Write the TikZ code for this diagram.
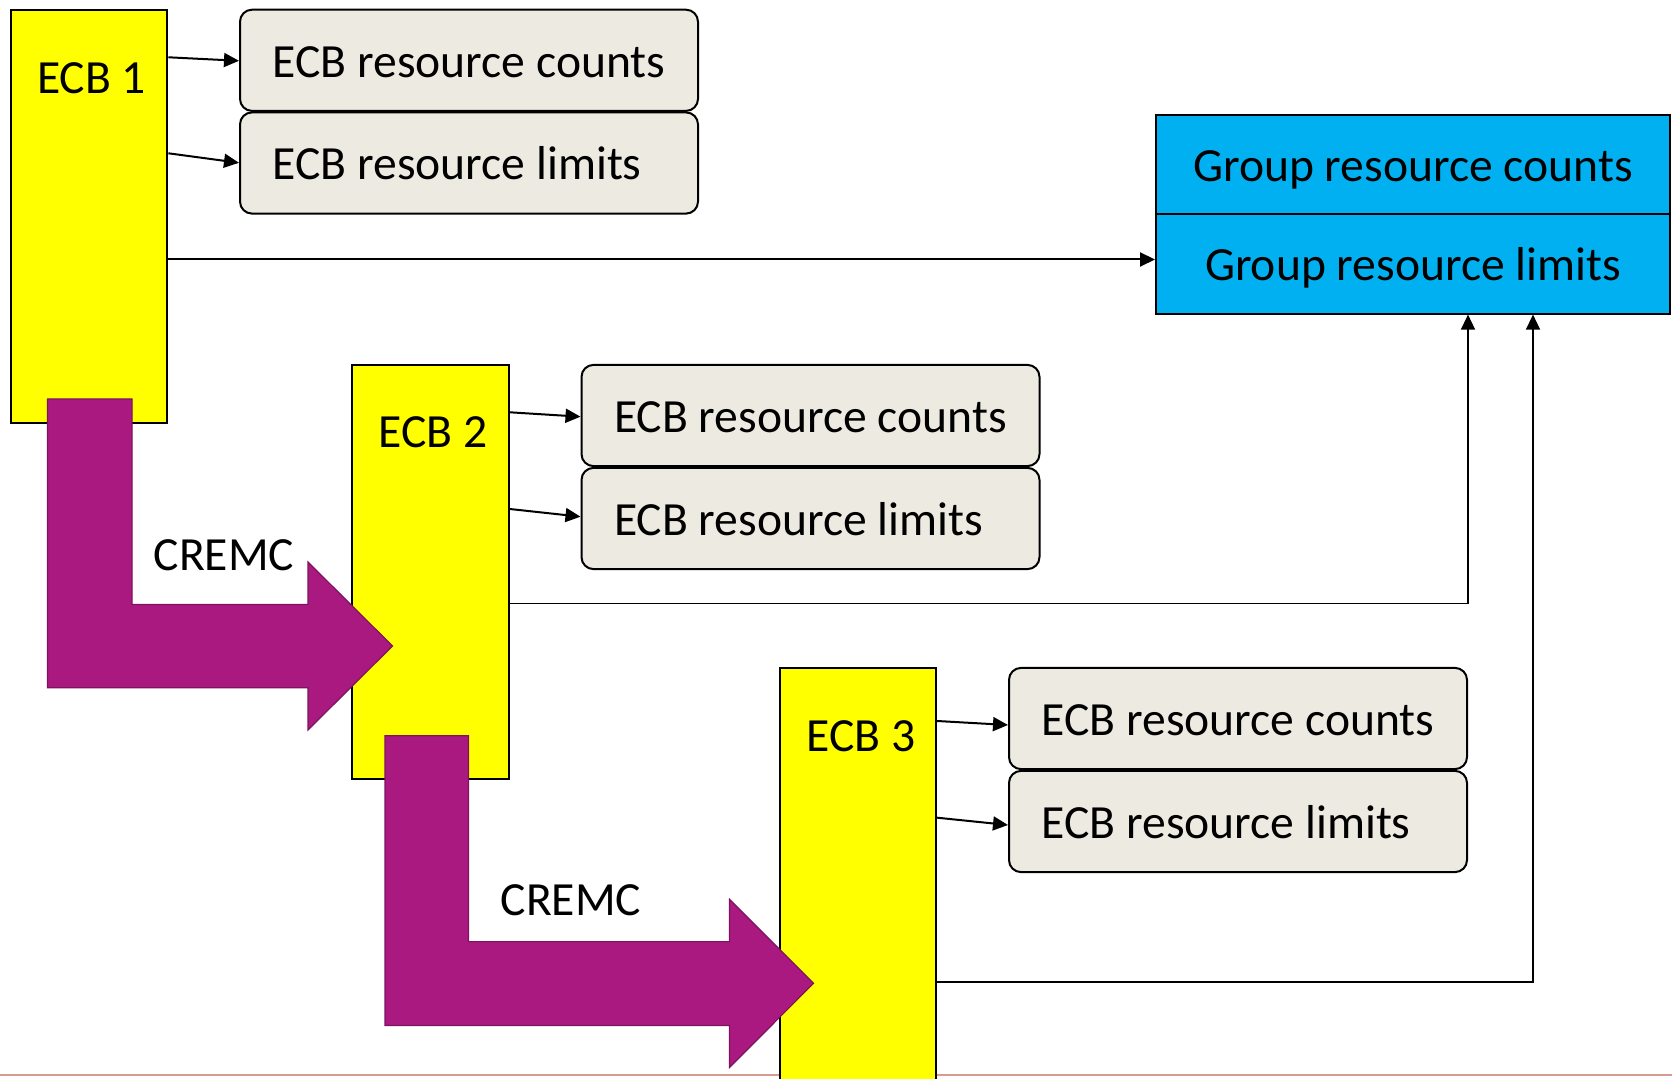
\documentclass[tikz,border=0pt]{standalone}
\usepackage{fontspec}
\setmainfont{Carlito}
\usetikzlibrary{arrows.meta}

\definecolor{ecbyellow}{RGB}{255,255,0}
\definecolor{fieldgray}{RGB}{237,235,225}
\definecolor{groupblue}{RGB}{0,176,240}
\definecolor{cremcfill}{RGB}{170,25,128}
\definecolor{cremcedge}{RGB}{125,18,95}
\definecolor{edgepink}{RGB}{215,155,145}

\tikzset{
  txt/.style={font=\fontsize{23.8pt}{28pt}\selectfont, text height=17pt, text depth=0pt},
  ecbbox/.style={draw=black, line width=1pt, fill=ecbyellow, minimum width=78.3pt, inner sep=0pt},
  field/.style={txt, draw=black, line width=1pt, fill=fieldgray, rounded corners=6pt,
    minimum width=229pt, minimum height=50.6pt, inner sep=0pt},
  groupcell/.style={txt, draw=black, line width=1pt, fill=groupblue,
    minimum width=257pt, minimum height=49.7pt, inner sep=0pt},
  conn/.style={line width=1pt, -{Triangle[length=7.5pt,width=7pt]}},
  feed/.style={line width=0.7pt, -{Triangle[length=7.5pt,width=7pt]}},
  cremc/.style={fill=cremcfill, draw=cremcedge, line width=0.6pt},
}

\begin{document}
\begin{tikzpicture}[x=0.5pt, y=-0.5pt]
\clip (0,0) rectangle (1672,1079);
\fill[white] (0,0) rectangle (1672,1079);

% slide edge
\draw[edgepink, line width=1pt] (0,1074.5) -- (1672,1074.5);

% ECB blocks
\node[ecbbox, minimum height=206.9pt] (ecb1) at (89.05,216.45) {};
\node[ecbbox, minimum height=207.2pt] (ecb2) at (430.5,572.1) {};
\node[ecbbox, minimum height=211pt]   (ecb3) at (857.8,879.3) {};

\node[txt] (t1) at (91.5,76.3) {ECB 1};
\node[txt] (t2) at (433,431) {ECB 2};
\node[txt] (t3) at (861,735) {ECB 3};

% per-ECB resource fields
\node[field] (c1) at (469,60.3)   {ECB resource counts};
\node[field] (l1) at (469,163)    {\rlap{ECB resource limits}\phantom{ECB resource counts}};
\node[field] (c2) at (810.5,415.5) {ECB resource counts};
\node[field] (l2) at (810.5,518.5) {\rlap{ECB resource limits}\phantom{ECB resource counts}};
\node[field] (c3) at (1238,718.5)  {ECB resource counts};
\node[field] (l3) at (1238,821.5)  {\rlap{ECB resource limits}\phantom{ECB resource counts}};

% group resource block
\node[groupcell] (gcnt) at (1413,164.5)  {Group resource counts};
\node[groupcell] (glim) at (1413,263.9)  {Group resource limits};

% ECB to field arrows
\draw[conn] (ecb1.east |- 0,57.3)  -- (c1.west |- 0,60.8);
\draw[conn] (ecb1.east |- 0,153.3) -- (l1.west |- 0,162.8);
\draw[conn] (ecb2.east |- 0,412.3) -- (c2.west |- 0,416.7);
\draw[conn] (ecb2.east |- 0,509)   -- (l2.west |- 0,516.7);
\draw[conn] (ecb3.east |- 0,721)   -- (c3.west |- 0,725);
\draw[conn] (ecb3.east |- 0,817.7) -- (l3.west |- 0,825);

% links to the group block
\draw[conn] (ecb1.east |- 0,259.5) -- (glim.west |- 0,259.5);
\coordinate (k2) at (1468,603.5);
\coordinate (k3) at (1533,982);
\draw[feed] (ecb2.east |- k2) -- (k2) -- (glim.south -| k2);
\draw[feed] (ecb3.east |- k3) -- (k3) -- (glim.south -| k3);

% CREMC transfer arrows
\draw[cremc] (47.5,399) -- (132,399) -- (132,604.5) -- (308,604.5) -- (308,562)
  -- (392.5,646) -- (308,730) -- (308,687.8) -- (47.5,687.8) -- cycle;
\draw[cremc] (385,735.7) -- (468.5,735.7) -- (468.5,941.6) -- (729.5,941.6) -- (729.5,899.3)
  -- (813.5,983.3) -- (729.5,1067.5) -- (729.5,1025.5) -- (385,1025.5) -- cycle;

\node[txt] (m1) at (224,553.3) {CREMC};
\node[txt] (m2) at (571,898.3) {CREMC};
\end{tikzpicture}
\end{document}
